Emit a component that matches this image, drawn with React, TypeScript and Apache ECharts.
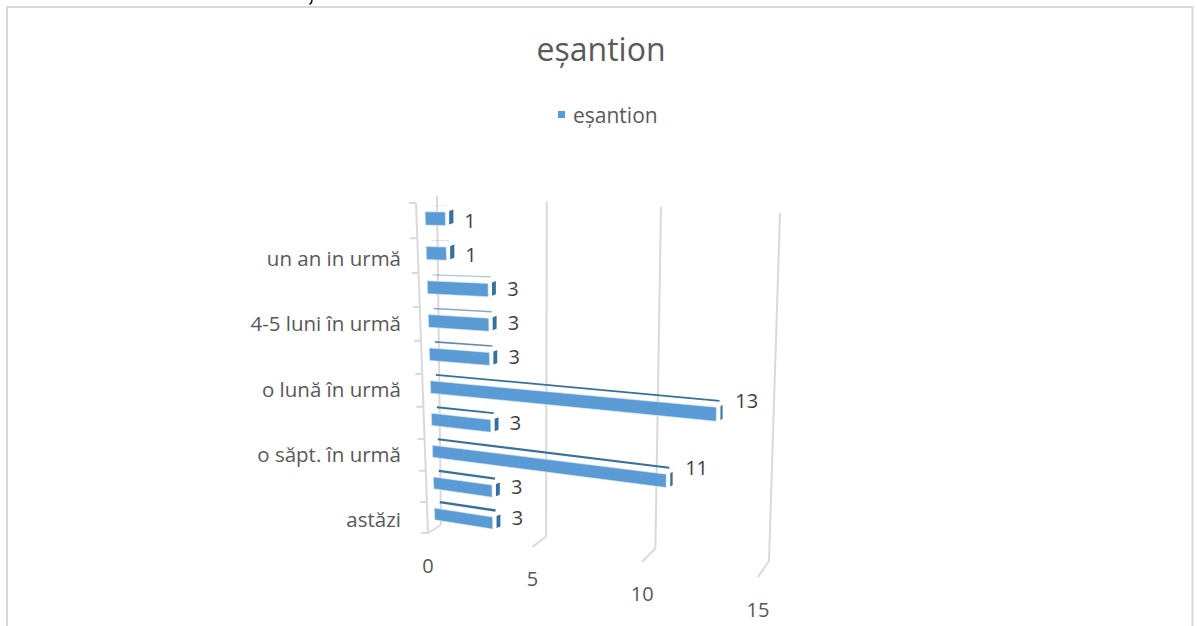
import React, { useEffect, useRef } from "react";
import * as echarts from "echarts";

const titleText = "eșantion";
const seriesName = "eșantion";
const categories = ["astăzi", "", "o săpt. în urmă", "", "o lună în urmă", "", "4-5 luni în urmă", "", "un an in urmă", ""];
const sampleValues = [3, 3, 11, 3, 13, 3, 3, 3, 1, 1];
const xTicks = [0, 5, 10, 15];
const xMax = 15;

const FONT = "Open Sans";
const TEXT = "#595959";
const LABEL = "#404040";
const GRID = "#d9d9d9";
const BAR = "#5b9bd5";
const DARK = "#35709f";

type Pt = [number, number];
// Perspective of the 3D box: each plane is a homography of the flat plot rectangle.
function plane(p00: Pt, p10: Pt, p11: Pt, p01: Pt) {
  const sx = p00[0] - p10[0] + p11[0] - p01[0];
  const sy = p00[1] - p10[1] + p11[1] - p01[1];
  const d1x = p10[0] - p11[0], d1y = p10[1] - p11[1];
  const d2x = p01[0] - p11[0], d2y = p01[1] - p11[1];
  const den = d1x * d2y - d2x * d1y;
  const g = (sx * d2y - d2x * sy) / den;
  const h = (d1x * sy - sx * d1y) / den;
  const a = p10[0] - p00[0] + g * p10[0], b = p01[0] - p00[0] + h * p01[0];
  const d = p10[1] - p00[1] + g * p10[1], e = p01[1] - p00[1] + h * p01[1];
  return (u: number, w: number): Pt => {
    const q = 1 + g * u + h * w;
    return [(p00[0] + a * u + b * w) / q, (p00[1] + d * u + e * w) / q];
  };
}
const backWall = plane([441, 525], [769, 561], [780, 213], [437, 196]);
const frontEdge = plane([428, 533], [758, 577], [772, 222], [416, 203]);
const barPlane = plane([435, 529.4], [761.4, 583], [775.4, 203], [424.7, 201]);

function unit(params: any, api: any, v: number, i: number, off: number): Pt {
  const cs = params.coordSys;
  const pt = api.coord([v, i]);
  const band = api.size([0, 1])[1];
  return [(pt[0] - cs.x) / cs.width, (cs.y + cs.height - (pt[1] - off * band)) / cs.height];
}

function renderWalls(params: any, api: any) {
  const v = api.value(0);
  const last = categories.length - 1;
  const [u0, w0] = unit(params, api, v, 0, -0.5);
  const [u1, w1] = unit(params, api, v, last, 0.5);
  const line = (a: Pt, b: Pt) => ({
    type: "polyline",
    shape: { points: [a, b] },
    style: { stroke: GRID, lineWidth: 2, fill: "none" },
  });
  const floorFront = frontEdge(u0, w0);
  const children: any[] = [
    line(backWall(u0, w0), backWall(u1, w1)),
    line(backWall(u0, w0), floorFront),
    {
      type: "text",
      style: {
        text: String(v), x: floorFront[0], y: floorFront[1] + 32,
        fill: TEXT, fontSize: 20, fontFamily: FONT, align: "center", verticalAlign: "middle",
      },
    },
  ];
  if (v === 0) children.push(line(frontEdge(u0, w0), frontEdge(u1, w1)));
  return { type: "group", children };
}

function renderCatTicks(params: any, api: any) {
  const i = api.value(1);
  const tick = (off: number) => {
    const [u, w] = unit(params, api, 0, i, off);
    const p = frontEdge(u, w);
    return {
      type: "polyline",
      shape: { points: [p, [p[0] - 7, p[1]]] },
      style: { stroke: GRID, lineWidth: 2, fill: "none" },
    };
  };
  const children = [tick(-0.5)];
  if (i === categories.length - 1) children.push(tick(0.5));
  return { type: "group", children };
}

function renderBar(params: any, api: any) {
  const v = api.value(0);
  const i = api.value(1);
  const half = 0.19;
  const at = (val: number, off: number) => {
    const [u, w] = unit(params, api, val, i, off);
    return barPlane(u, w);
  };
  const lt = at(0, half), rt = at(v, half), rb = at(v, -half), lb = at(0, -half);
  const mid = at(v, 0);
  const sideW = Math.max(2, 4.4 - 0.18 * v);
  const sx = rt[0] + 4;
  const edgeW = Math.max(0.8, 2.4 - 0.16 * i);
  const edgeAlpha = i < 5 ? 1 : Math.max(0.1, 1 - 0.2 * (i - 4));
  return {
    type: "group",
    children: [
      {
        type: "polyline",
        shape: { points: [[lt[0] + 5.5, lt[1] - 6], [rt[0] + 3, rt[1] - 6.5]] },
        style: { stroke: DARK, lineWidth: edgeW, fill: "none", opacity: edgeAlpha },
      },
      {
        type: "polygon",
        shape: {
          points: [
            [sx, rt[1] - 1], [sx + sideW, rt[1] - 2.5],
            [sx + sideW, rb[1] - 2.5], [sx, rb[1] - 1],
          ],
        },
        style: { fill: DARK },
      },
      {
        type: "polygon",
        shape: { points: [lt, rt, rb, lb] },
        style: { fill: BAR, stroke: "#d6e6f5", lineWidth: 0.6 },
      },
      {
        type: "text",
        style: {
          text: String(v), x: mid[0] + 19, y: mid[1] - 1.1 * v - 2 + 0.5 * i,
          fill: LABEL, fontSize: 20, fontFamily: FONT, align: "left", verticalAlign: "middle",
        },
      },
    ],
  };
}

export default function App() {
  const ref = useRef<HTMLDivElement>(null);
  useEffect(() => {
    const chart = echarts.init(ref.current!, null, { renderer: "svg" });
    chart.setOption({
      animation: false,
      backgroundColor: "#ffffff",
      title: {
        text: titleText, left: 596, top: 27, textAlign: "center",
        textStyle: { fontFamily: FONT, fontSize: 32, fontWeight: "normal", color: TEXT },
      },
      legend: {
        data: [{ name: seriesName, icon: "rect" }],
        left: 553, top: 99, itemWidth: 7, itemHeight: 7,
        textStyle: { fontFamily: FONT, fontSize: 21, color: TEXT, padding: [0, 0, 0, 3] },
      },
      graphic: [
        {
          type: "rect", silent: true, z: -1,
          shape: { x: 7, y: 7, width: 1185.5, height: 640 },
          style: { fill: "none", stroke: GRID, lineWidth: 2 },
        },
        {
          type: "polyline", silent: true,
          shape: { points: [[312, 0], [311.5, 2.5], [309.5, 4.5]] },
          style: { stroke: "#000000", lineWidth: 1.5, fill: "none" },
        },
      ],
      grid: { left: 409, top: 209.3, width: 360, height: 326, containLabel: false },
      xAxis: { type: "value", min: 0, max: xMax, interval: 5, show: false },
      yAxis: {
        type: "category", data: categories,
        axisLine: { show: false }, axisTick: { show: false }, splitLine: { show: false },
        axisLabel: { interval: 0, margin: 8, color: TEXT, fontFamily: FONT, fontSize: 20.5 },
      },
      series: [
        {
          name: "axis", type: "custom", silent: true, renderItem: renderWalls,
          encode: { x: 0, y: 1 }, data: xTicks.map((t) => [t, 0]), clip: false,
        },
        {
          name: "categoryTicks", type: "custom", silent: true, renderItem: renderCatTicks,
          encode: { x: 0, y: 1 }, data: categories.map((_, i) => [0, i]), clip: false,
        },
        {
          name: seriesName, type: "custom", renderItem: renderBar,
          itemStyle: { color: BAR },
          encode: { x: 0, y: 1 }, data: sampleValues.map((v, i) => [v, i]), clip: false,
        },
      ],
    });
    return () => chart.dispose();
  }, []);
  return <div ref={ref} style={{ position: "absolute", left: 0, top: 0, width: 1197, height: 626 }} />;
}
